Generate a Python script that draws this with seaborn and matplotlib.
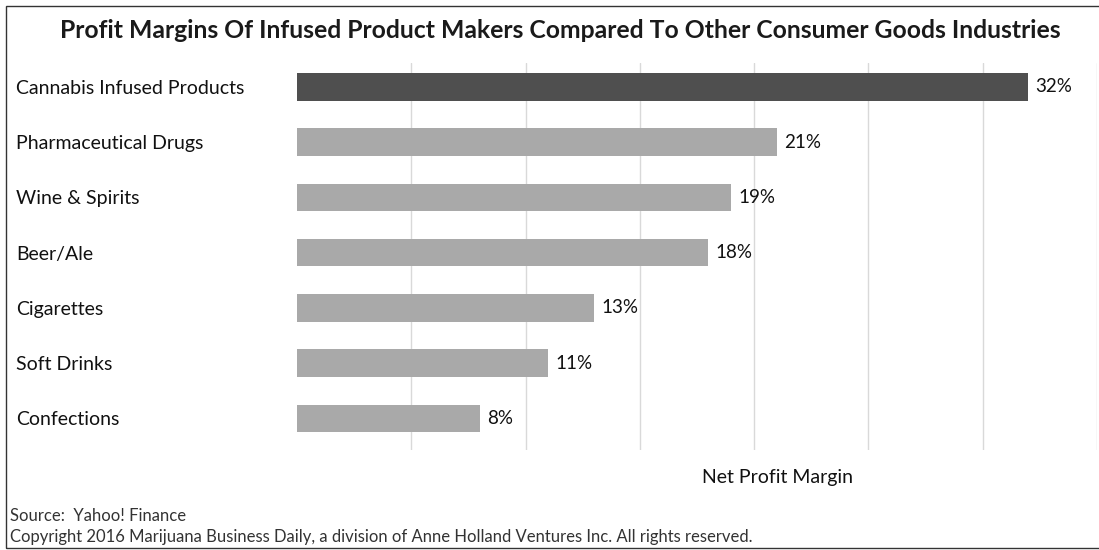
import matplotlib
matplotlib.use("Agg")
import matplotlib.pyplot as plt
import seaborn as sns
import pandas as pd
from matplotlib.patches import Rectangle

# Net profit margin (%) by industry
categories = [
    "Cannabis Infused Products",
    "Pharmaceutical Drugs",
    "Wine & Spirits",
    "Beer/Ale",
    "Cigarettes",
    "Soft Drinks",
    "Confections",
]
margins = [32, 21, 19, 18, 13, 11, 8]
value_labels = ["32%", "21%", "19%", "18%", "13%", "11%", "8%"]
grid_ticks = [5, 10, 15, 20, 25, 30, 35]

title = "Profit Margins Of Infused Product Makers Compared To Other Consumer Goods Industries"
axis_title = "Net Profit Margin"
source_note = "Source:  Yahoo! Finance"
copyright_note = ("Copyright 2016 Marijuana Business Daily, a division of "
                  "Anne Holland Ventures Inc. All rights reserved.")

sns.set_theme(style="white")
plt.rcParams["font.family"] = ["Lato", "DejaVu Sans"]

df = pd.DataFrame({"industry": categories, "margin": margins})
palette = {c: ("#4f4f4f" if i == 0 else "#a9a9a9") for i, c in enumerate(categories)}

fig = plt.figure(figsize=(10.99, 5.5), dpi=100)
ax = fig.add_axes([297 / 1099, 1 - 450 / 550, 800 / 1099, 387 / 550])

sns.barplot(data=df, x="margin", y="industry", hue="industry", palette=palette,
            orient="h", width=0.5, legend=False, ax=ax, saturation=1,
            edgecolor="none", zorder=3)

ax.set_xlim(0, 35)
ax.set_ylim(len(categories) - 0.43, -0.43)
ax.set_xticks(grid_ticks)
ax.set_xticklabels([])
ax.grid(axis="x", color="#d9d9d9", linewidth=1.0, zorder=0)
ax.grid(axis="y", visible=False)
ax.set_axisbelow(True)
for s in ax.spines.values():
    s.set_visible(False)
ax.tick_params(axis="both", length=0)
ax.tick_params(axis="y", pad=202)
for lbl in ax.get_yticklabels():
    lbl.set_horizontalalignment("left")
    lbl.set_fontsize(14)
    lbl.set_color("#111111")
ax.set_xlabel("")
ax.set_ylabel("")

# percentage labels at the end of each bar
for cont, cat in zip(ax.containers, categories):
    ax.bar_label(cont, labels=[value_labels[categories.index(cat)]], padding=5,
                 fontsize=13.5, color="#111111")

fig.text(560 / 1099, 1 - 30 / 550, title, ha="center", va="center",
         fontsize=17.8, fontweight="bold", color="#1a1a1a")
fig.text(777 / 1099, 1 - 477 / 550, axis_title, ha="center", va="center",
         fontsize=14, color="#111111")
fig.text(10 / 1099, 1 - 516 / 550, source_note, ha="left", va="center",
         fontsize=12, color="#333333")
fig.text(10 / 1099, 1 - 537 / 550, copyright_note, ha="left", va="center",
         fontsize=12, color="#333333")

# thin frame around the chart
fig.patches.append(Rectangle((6 / 1099, 2 / 550), 1.2, 1 - 8 / 550,
                             transform=fig.transFigure, fill=False,
                             edgecolor="#333333", linewidth=1.0))

fig.savefig("out.png", dpi=100)
